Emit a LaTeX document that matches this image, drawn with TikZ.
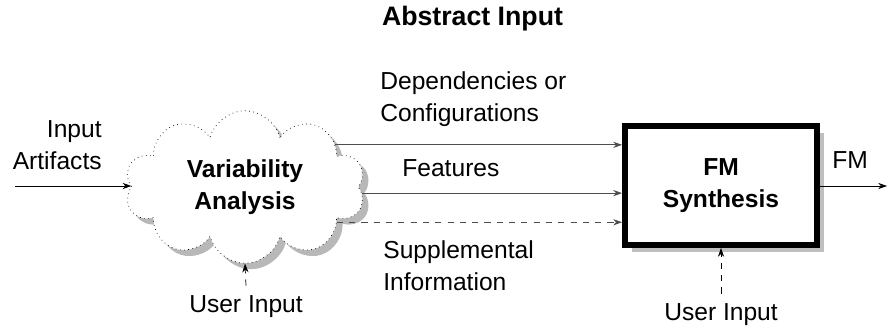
\documentclass[tikz,border=0pt]{standalone}
\usepackage{fontspec}
\setmainfont{Liberation Sans}
\usetikzlibrary{shapes,shadows,arrows.meta,positioning,calc}

\begin{document}
\begin{tikzpicture}[x=0.02cm, y=-0.02cm,
    every node/.style={font=\fontsize{14}{18}\selectfont},
    lbl/.style={inner sep=0pt},
    bold/.style={font=\fontsize{14}{18}\selectfont\bfseries},
    flow/.style={draw=black!70, -{Stealth[length=5pt,width=3.5pt]}},
    hint/.style={flow, dash pattern=on 3.5pt off 3.5pt}]
    \useasboundingbox (0,0) rectangle (889,331);

    % title
    \node[lbl, font=\fontsize{15.2}{18}\selectfont\bfseries] (title) at (472.5,19) {Abstract Input};

    % variability analysis cloud
    \node[cloud, cloud puffs=10, aspect=1.6, draw, dotted, fill=white,
          minimum width=4.8cm, minimum height=3.05cm, align=center, bold,
          drop shadow={shadow xshift=0.12cm, shadow yshift=-0.12cm, fill=black!28, opacity=1}]
          (va) at (245,187) {Variability\\Analysis};

    % fm synthesis box
    \node[draw, line width=3.4pt, fill=white, minimum width=3.84cm, minimum height=2.38cm,
          align=center, bold,
          drop shadow={shadow xshift=0.14cm, shadow yshift=-0.14cm, fill=black!25, opacity=1}]
          (fm) at (721,185.5) {FM\\Synthesis};

    % input side
    \node[lbl, align=right, anchor=east] (art) at (102,145) {Input\\Artifacts};
    \coordinate (in) at (15,186);
    \draw[flow, draw=black] (in) -- (in -| va.west);

    % cloud to box
    \draw[flow] (va.25) -- (va.25 -| fm.west);
    \draw[flow] (va.-3) -- (va.-3 -| fm.west);
    \draw[hint] (va.-21) -- (va.-21 -| fm.west);
    \node[lbl, align=left, anchor=west] (dep) at (380,99) {Dependencies or\\Configurations};
    \node[lbl, anchor=west] (feat) at (402,168) {Features};
    \node[lbl, align=left, anchor=west] (sup) at (383,266) {Supplemental\\Information};

    % output
    \coordinate (out) at (887,186);
    \draw[flow, draw=black] (fm.east |- out) -- (out);
    \node[lbl] (fmout) at (850,160) {FM};

    % user input
    \node[lbl] (ui1) at (246,307) {User Input};
    \draw[hint, draw=black] ($(ui1.north)+(0,-10)$) -- (va.south);
    \node[lbl] (ui2) at (721,315) {User Input};
    \draw[hint, draw=black] ($(ui2.north)+(0,-10)$) -- (fm.south);
\end{tikzpicture}
\end{document}
